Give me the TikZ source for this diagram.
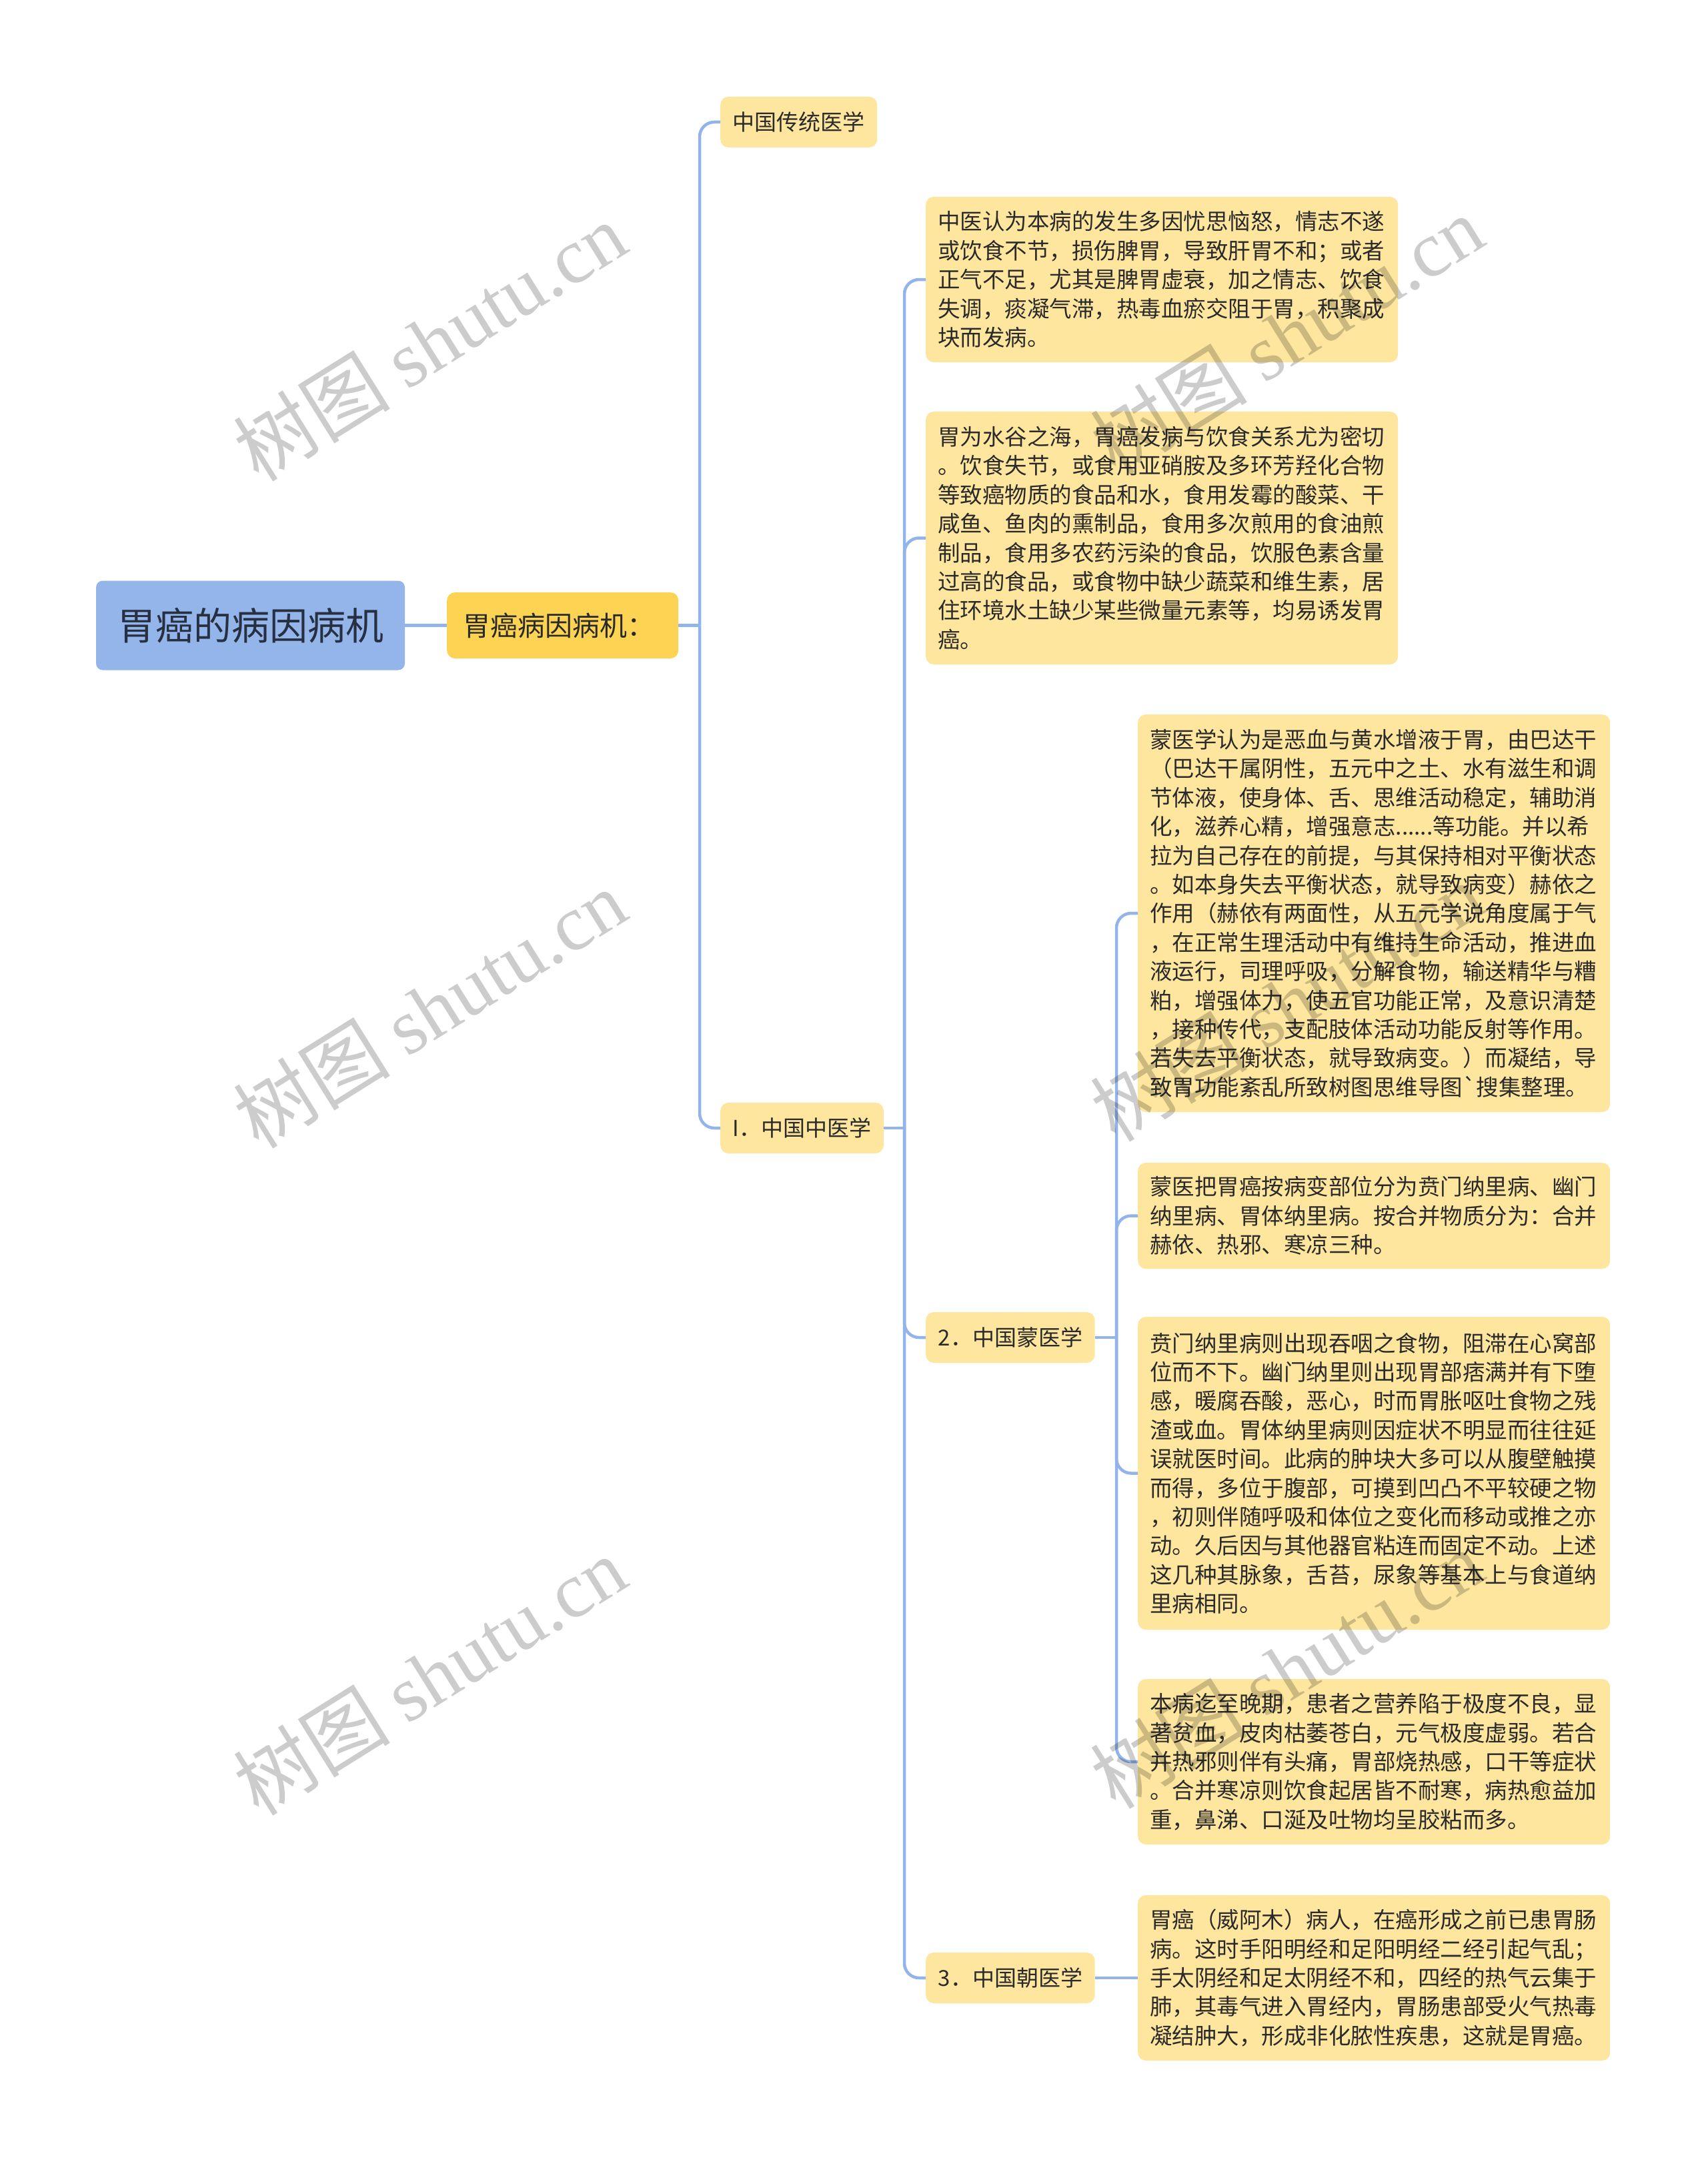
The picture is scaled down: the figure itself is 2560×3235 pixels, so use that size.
\documentclass[tikz,border=0pt]{standalone}
\usepackage{fontspec}
\setmainfont{Noto Sans CJK SC}
\newfontfamily\wmserif{Liberation Serif}
\definecolor{linec}{HTML}{92B4EA}
\definecolor{rootc}{HTML}{94B5EA}
\definecolor{topicc}{HTML}{FDD354}
\definecolor{leafc}{HTML}{FEE69E}
\definecolor{txtc}{HTML}{2A2A2A}
\definecolor{roottxt}{HTML}{263040}
\begin{document}
\begin{tikzpicture}[x=1pt,y=-1pt]
\tikzset{
 conn/.style={draw=linec, line width=4.5pt},
 elbow/.style={conn, rounded corners=22pt},
 boxbase/.style={rounded corners=12pt, inner ysep=0pt, text=txtc},
 rootbox/.style={boxbase, fill=rootc, text=roottxt, minimum width=463pt, minimum height=134pt, inner xsep=0pt, rounded corners=10pt, font=\fontsize{57}{60}\selectfont},
 topicbox/.style={boxbase, fill=topicc, text width=299pt, inner xsep=24pt, minimum height=99pt, align=left, anchor=west, font=\fontsize{41}{46}\selectfont},
 subbox/.style={boxbase, fill=leafc, inner xsep=18.5pt, minimum height=76pt, anchor=west, font=\fontsize{33}{40}\selectfont},
 leafbox/.style={boxbase, fill=leafc, text width=672pt, inner xsep=18pt, align=left, anchor=west, font=\fontsize{33.5}{43.4}\selectfont},
 wm/.style={text=black, text opacity=0.2, rotate=32, inner sep=0pt, font=\fontsize{118}{125}\selectfont},
}
\useasboundingbox (0,0) rectangle (2560,3235);

\coordinate (busA) at (1049,0);
\coordinate (busB) at (1356,0);
\coordinate (busC) at (1674,0);

\node[rootbox] (root) at (375.5,937.5) {胃癌的病因病机};
\node[topicbox] (n1) at (670,937.5) {胃癌病因病机：};
\node[subbox] (n2a) at (1080,183) {中国传统医学};
\node[subbox] (n2b) at (1080,1691) {I．中国中医学};
\node[subbox] (n3a) at (1388,2005) {2．中国蒙医学};
\node[subbox] (n3b) at (1388,2965) {3．中国朝医学};

\node[leafbox, minimum height=248pt] (l1) at (1388,419) {中医认为本病的发生多因忧思恼怒，情志不遂\\或饮食不节，损伤脾胃，导致肝胃不和；或者\\正气不足，尤其是脾胃虚衰，加之情志、饮食\\失调，痰凝气滞，热毒血瘀交阻于胃，积聚成\\块而发病。};
\node[leafbox, minimum height=379pt] (l2) at (1388,806.5) {胃为水谷之海，胃癌发病与饮食关系尤为密切\\。饮食失节，或食用亚硝胺及多环芳羟化合物\\等致癌物质的食品和水，食用发霉的酸菜、干\\咸鱼、鱼肉的熏制品，食用多次煎用的食油煎\\制品，食用多农药污染的食品，饮服色素含量\\过高的食品，或食物中缺少蔬菜和维生素，居\\住环境水土缺少某些微量元素等，均易诱发胃\\癌。};
\node[leafbox, minimum height=596pt] (l3) at (1706,1369) {蒙医学认为是恶血与黄水增液于胃，由巴达干\\（巴达干属阴性，五元中之土、水有滋生和调\\节体液，使身体、舌、思维活动稳定，辅助消\\化，滋养心精，增强意志......等功能。并以希\\拉为自己存在的前提，与其保持相对平衡状态\\。如本身失去平衡状态，就导致病变）赫依之\\作用（赫依有两面性，从五元学说角度属于气\\，在正常生理活动中有维持生命活动，推进血\\液运行，司理呼吸，分解食物，输送精华与糟\\粕，增强体力，使五官功能正常，及意识清楚\\，接种传代，支配肢体活动功能反射等作用。\\若失去平衡状态，就导致病变。）而凝结，导\\致胃功能紊乱所致树图思维导图\textasciigrave 搜集整理。};
\node[leafbox, minimum height=159pt] (l4) at (1706,1822.5) {蒙医把胃癌按病变部位分为贲门纳里病、幽门\\纳里病、胃体纳里病。按合并物质分为：合并\\赫依、热邪、寒凉三种。};
\node[leafbox, minimum height=469pt] (l5) at (1706,2208.5) {贲门纳里病则出现吞咽之食物，阻滞在心窝部\\位而不下。幽门纳里则出现胃部痞满并有下堕\\感，暖腐吞酸，恶心，时而胃胀呕吐食物之残\\渣或血。胃体纳里病则因症状不明显而往往延\\误就医时间。此病的肿块大多可以从腹壁触摸\\而得，多位于腹部，可摸到凹凸不平较硬之物\\，初则伴随呼吸和体位之变化而移动或推之亦\\动。久后因与其他器官粘连而固定不动。上述\\这几种其脉象，舌苔，尿象等基本上与食道纳\\里病相同。};
\node[leafbox, minimum height=248pt] (l6) at (1706,2641) {本病迄至晚期，患者之营养陷于极度不良，显\\著贫血，皮肉枯萎苍白，元气极度虚弱。若合\\并热邪则伴有头痛，胃部烧热感，口干等症状\\。合并寒凉则饮食起居皆不耐寒，病热愈益加\\重，鼻涕、口涎及吐物均呈胶粘而多。};
\node[leafbox, minimum height=248pt] (l7) at (1706,2965) {胃癌（威阿木）病人，在癌形成之前已患胃肠\\病。这时手阳明经和足阳明经二经引起气乱；\\手太阴经和足太阴经不和，四经的热气云集于\\肺，其毒气进入胃经内，胃肠患部受火气热毒\\凝结肿大，形成非化脓性疾患，这就是胃癌。};

% connectors
\draw[conn] (root.east) -- (n1.west);
\draw[conn] (n1.east) -- (n1.east -| busA);
\draw[elbow] (n1.east -| busA) -- (busA |- n2a.west) -- (n2a.west);
\draw[elbow] (n1.east -| busA) -- (busA |- n2b.west) -- (n2b.west);

\draw[conn] (n2b.east) -- (n2b.east -| busB);
\draw[elbow] (n2b.east -| busB) -- (busB |- l1.west) -- (l1.west);
\draw[elbow] (n2b.east -| busB) -- (busB |- l2.west) -- (l2.west);
\draw[elbow] (n2b.east -| busB) -- (busB |- n3a.west) -- (n3a.west);
\draw[elbow] (n2b.east -| busB) -- (busB |- n3b.west) -- (n3b.west);

\draw[conn] (n3a.east) -- (n3a.east -| busC);
\draw[elbow] (n3a.east -| busC) -- (busC |- l3.west) -- (l3.west);
\draw[elbow] (n3a.east -| busC) -- (busC |- l4.west) -- (l4.west);
\draw[elbow] (n3a.east -| busC) -- (busC |- l5.west) -- (l5.west);
\draw[elbow] (n3a.east -| busC) -- (busC |- l6.west) -- (l6.west);

\draw[conn] (n3b.east) -- (l7.west);

% watermarks
\node[wm] (w1) at (644,512) {树图 {\wmserif shutu.cn}};
\node[wm] (w2) at (644,1512) {树图 {\wmserif shutu.cn}};
\node[wm] (w3) at (644,2512) {树图 {\wmserif shutu.cn}};
\node[wm] (w4) at (1929,502) {树图 {\wmserif shutu.cn}};
\node[wm] (w5) at (1929,1502) {树图 {\wmserif shutu.cn}};
\node[wm] (w6) at (1929,2502) {树图 {\wmserif shutu.cn}};
\end{tikzpicture}
\end{document}
